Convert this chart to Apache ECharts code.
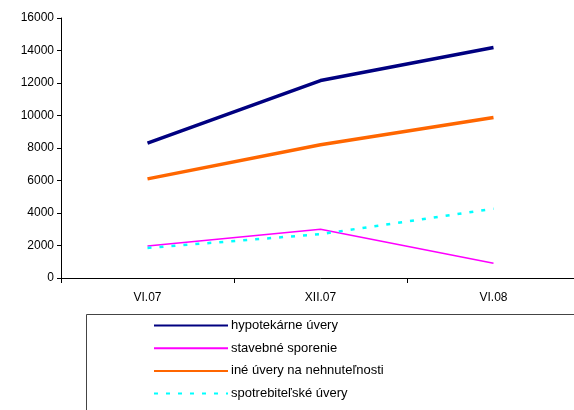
<!DOCTYPE html>
<html>
<head>
<meta charset="utf-8">
<script src="https://cdn.jsdelivr.net/npm/echarts@6/dist/echarts.min.js"></script>
<style>
  html, body { margin: 0; padding: 0; background: #fff; overflow: hidden; }
  #wrap { width: 574px; height: 410px; overflow: hidden; }
  /* the plot area runs a little past the right edge of the page */
  #chart { width: 580px; height: 410px; }
</style>
</head>
<body>
<div id="wrap"><div id="chart"></div></div>
<script>
// Loan volumes by period
var periods = ['VI.07', 'XII.07', 'VI.08'];
var seriesNames = ['hypotekárne úvery', 'stavebné sporenie', 'iné úvery na nehnuteľnosti', 'spotrebiteľské úvery'];
var hypotekarne = [8300, 12150, 14180];
var stavebne = [1970, 3000, 910];
var ine = [6100, 8200, 9880];
var spotrebitelske = [1850, 2700, 4260];
var yTicks = { min: 0, max: 16000, step: 2000 };

var chart = echarts.init(document.getElementById('chart'), null, { renderer: 'canvas' });
var font = 'Liberation Sans, Arial, sans-serif';

function lineSeries(name, data, color, width, dash) {
  return {
    name: name,
    type: 'line',
    data: data,
    symbol: 'none',
    showSymbol: false,
    silent: true,
    lineStyle: { color: color, width: width, type: dash || 'solid', cap: 'butt' },
    itemStyle: { color: color }
  };
}

chart.setOption({
  animation: false,
  backgroundColor: '#ffffff',
  grid: { left: 61, right: 0, top: 18, bottom: 132, containLabel: false },
  xAxis: {
    type: 'category',
    data: periods,
    boundaryGap: true,
    axisLine: { lineStyle: { color: '#000', width: 1 } },
    axisTick: { show: true, length: 5, inside: false, lineStyle: { color: '#000' } },
    axisLabel: { color: '#000', fontSize: 12, fontFamily: font, margin: 14 },
    splitLine: { show: false }
  },
  yAxis: {
    type: 'value',
    min: yTicks.min,
    max: yTicks.max,
    interval: yTicks.step,
    axisLine: { show: true, lineStyle: { color: '#000', width: 1 } },
    axisTick: { show: true, length: 4, lineStyle: { color: '#000' } },
    axisLabel: {
      color: '#000', fontSize: 12, fontFamily: font, margin: 7,
      formatter: function (v) { return String(v); }
    },
    splitLine: { show: false }
  },
  legend: {
    orient: 'vertical',
    left: 153,
    top: 319,
    itemWidth: 74,
    itemHeight: 14,
    itemGap: 9.7,
    padding: 0,
    selectedMode: false,
    data: seriesNames,
    itemStyle: { opacity: 0, borderWidth: 0 },
    textStyle: { color: '#000', fontSize: 13, fontFamily: font, padding: [0, 0, 0, -2] }
  },
  graphic: [{
    type: 'rect',
    shape: { x: 86.5, y: 314.5, width: 520, height: 120 },
    style: { fill: 'none', stroke: '#444', lineWidth: 1 },
    silent: true
  }],
  series: [
    lineSeries(seriesNames[0], hypotekarne, '#000080', 3.5),
    lineSeries(seriesNames[1], stavebne, '#ff00ff', 1.6),
    lineSeries(seriesNames[2], ine, '#ff6600', 3.5),
    lineSeries(seriesNames[3], spotrebitelske, '#00ffff', 2.5, [4, 8])
  ]
});
</script>
</body>
</html>
